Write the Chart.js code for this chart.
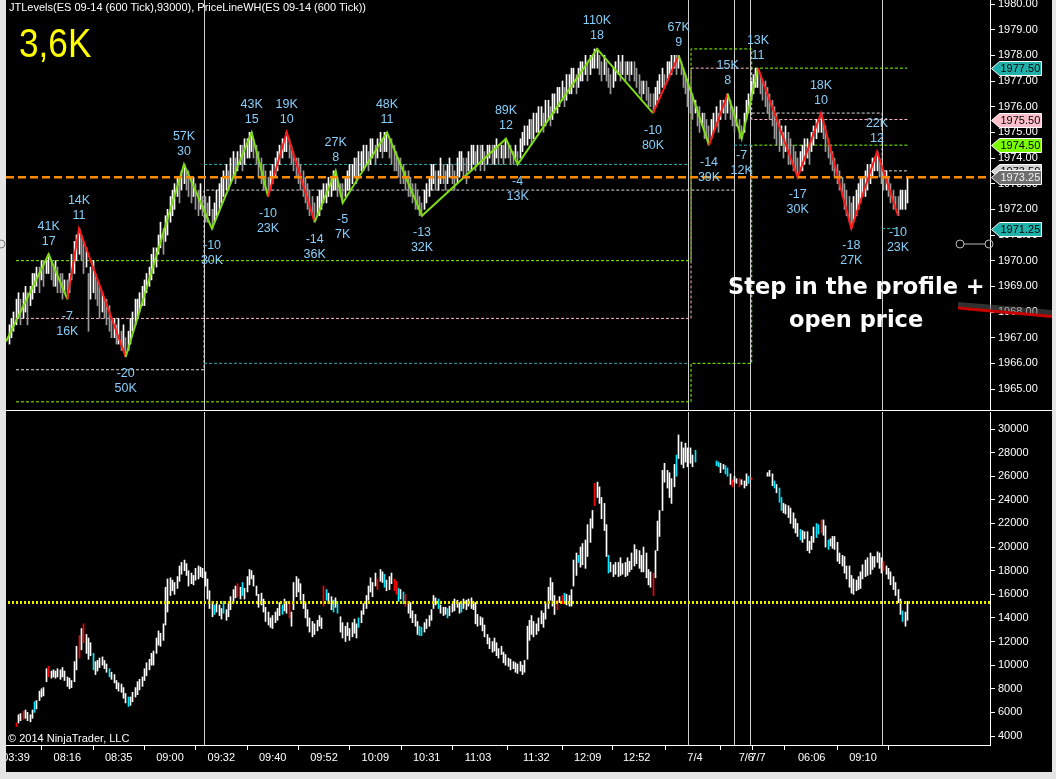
<!DOCTYPE html>
<html>
<head>
<meta charset="utf-8">
<title>ES 09-14 JTLevels</title>
<script src="https://cdn.jsdelivr.net/npm/chart.js@4.4.1/dist/chart.umd.min.js"></script>
<style>
html,body{margin:0;padding:0;}
body{width:1056px;height:779px;background:#e4e4e4;position:relative;overflow:hidden;}
#frame{position:absolute;left:6px;top:0;width:1046px;height:772px;background:#000;overflow:hidden;}
canvas{position:absolute;left:0;display:block;}
#c1{top:0;}
#c2{top:410px;}
.t{position:absolute;white-space:nowrap;font-family:"Liberation Sans",Arial,sans-serif;color:#fff;}
#title{left:3px;top:0;font-size:11px;line-height:14px;}
#big{left:13px;top:23px;font-size:40px;line-height:40px;color:#ffff00;transform:scaleX(0.88);transform-origin:0 0;}
#copy{left:2px;top:732px;font-size:11px;line-height:13px;}
.note{font-family:"DejaVu Sans",Verdana,sans-serif;font-weight:bold;font-size:22.5px;line-height:26px;}
#note1{left:722px;top:273px;}
#note2{left:783px;top:306px;}
svg{position:absolute;left:0;top:0;}
</style>
</head>
<body>
<svg width="12" height="779" style="left:0;top:0"><circle cx="1" cy="244" r="4" fill="none" stroke="#777" stroke-width="1"/></svg>
<div id="frame">
  <canvas id="c1" width="1046" height="410"></canvas>
  <canvas id="c2" width="1046" height="362"></canvas>
  <div class="t" id="title">JTLevels(ES 09-14 (600 Tick),93000), PriceLineWH(ES 09-14 (600 Tick))</div>
  <div class="t" id="big">3,6K</div>
  <div class="t" id="copy">© 2014 NinjaTrader, LLC</div>
  <svg width="1046" height="772">
    <line x1="952" y1="305" x2="1046" y2="313" stroke="rgba(90,90,90,0.55)" stroke-width="6"/>
    <line x1="952" y1="308" x2="1046" y2="316.5" stroke="#c80000" stroke-width="3"/>
    <line x1="958" y1="244" x2="979" y2="244" stroke="#bbbbbb" stroke-width="1"/>
    <circle cx="954" cy="244" r="4" fill="none" stroke="#bbbbbb" stroke-width="1"/>
    <circle cx="983" cy="244" r="4" fill="none" stroke="#bbbbbb" stroke-width="1"/>
  </svg>
  <div class="t note" id="note1">Step in the profile +</div>
  <div class="t note" id="note2">open price</div>
</div>
<script>
// ---------------- DATA ----------------
const priceTicks = [1965,1966,1967,1968,1969,1970,1971,1972,1973,1974,1975,1976,1977,1978,1979,1980];
const deltaTicks = [4000,6000,8000,10000,12000,14000,16000,18000,20000,22000,24000,26000,28000,30000];
const xTickIdx  = [3,25,47,69,91,113,135,157,179,201,226,248,269,294,316,321,344,366];
const xTickText = ['03:39','08:16','08:35','09:00','09:32','09:40','09:52','10:09','10:31','11:03','11:32','12:09','12:52','7/4','7/6','7/7','06:06','09:10'];
const sessionBreaks = [83.6,291,310.7,317.6,374.2];

// price bars [low, high], one per 600-tick bar
const priceHL = [
[1966.75,1967.5],[1967,1967.75],[1967.25,1968],[1967.5,1968.5],[1967.75,1968.75],[1967.5,1968.5],[1967.75,1968.75],[1968,1969],[1967.5,1968.75],[1968.25,1969],
[1968.5,1969.5],[1968.75,1969.5],[1969,1969.75],[1968.75,1969.75],[1969.25,1970],[1969,1970],[1969.5,1970],[1969.5,1970.25],[1969.25,1970],[1969,1969.75],
[1969,1970],[1968.75,1969.75],[1968.75,1969.5],[1968.5,1969.5],[1968.75,1969.25],[1968.5,1969.25],[1968.75,1969.5],[1969.25,1970.25],[1969.5,1970.75],[1970,1971],
[1970.25,1971.25],[1970,1971],[1969.5,1970.75],[1969.75,1970.5],[1967.25,1969.5],[1968.5,1969.75],[1968.75,1970],[1968.5,1969.5],[1968.25,1969.25],[1967.75,1969],
[1968,1968.75],[1967.75,1968.5],[1967.5,1968.5],[1967.25,1968.25],[1967,1967.75],[1967,1967.75],[1966.75,1967.5],[1966.75,1967.75],[1966.5,1967.25],[1966.5,1967.5],
[1966.25,1967],[1966.5,1967.25],[1966.75,1967.75],[1967.25,1968],[1967.5,1968.5],[1967.75,1968.5],[1968,1968.75],[1968.25,1969],[1968.25,1969.25],[1968.75,1969.5],
[1969,1969.75],[1969.25,1970.25],[1969.5,1970.5],[1969.75,1970.5],[1970.25,1971],[1970.5,1971.5],[1970.25,1971.25],[1970.75,1971.75],[1971,1972],[1971.5,1972.5],
[1971.75,1972.75],[1972,1973],[1972.5,1973.25],[1972.25,1973.25],[1972.75,1973.5],[1973,1973.75],[1972.75,1973.5],[1972.5,1973.5],[1972.25,1973.25],[1972.5,1973.25],
[1972,1973],[1971.75,1972.75],[1972,1973],[1971.75,1972.5],[1971.5,1972.5],[1971.5,1972.25],[1971.75,1972.5],[1971.25,1972],[1971.5,1972.25],[1971.75,1972.75],
[1972,1973],[1972.25,1973.25],[1972.5,1973.5],[1972.75,1973.75],[1972.75,1973.5],[1973,1974],[1973.25,1974.25],[1973,1974],[1973.5,1974.25],[1973.75,1974.5],
[1973.5,1974.5],[1973.75,1974.75],[1974,1974.75],[1974,1975],[1974.25,1975],[1974,1974.75],[1973.75,1974.5],[1973.25,1974.25],[1973,1974],[1972.75,1973.75],
[1972.75,1973.5],[1972.5,1973.25],[1972.75,1973.5],[1973,1973.75],[1973.25,1974],[1973.5,1974.25],[1973.75,1974.5],[1974,1974.75],[1974.25,1974.75],[1974.25,1975],
[1974,1974.75],[1973.75,1974.5],[1973.5,1974.25],[1973.25,1974],[1973,1974],[1972.75,1973.75],[1972.5,1973.5],[1972.25,1973.25],[1972,1973],[1971.75,1972.75],
[1971.75,1972.5],[1971.5,1972.25],[1971.75,1972.5],[1971.75,1972.75],[1972,1972.75],[1972.25,1973],[1972.25,1973],[1972.5,1973.25],[1972.5,1973.25],[1972.75,1973.5],
[1972.75,1973.5],[1972.5,1973.25],[1972.5,1973],[1972.25,1973],[1972.5,1973.25],[1972.75,1973.5],[1972.75,1973.75],[1973,1973.75],[1973.25,1974],[1973,1974],
[1973.25,1974.25],[1973.5,1974.25],[1973.5,1974.5],[1973.75,1974.5],[1973.5,1974.25],[1973.75,1974.75],[1974,1974.75],[1973.75,1974.5],[1974,1974.75],[1974.25,1975],
[1974,1974.75],[1974.25,1975],[1974.25,1975],[1974,1974.75],[1973.75,1974.75],[1973.5,1974.5],[1973.5,1974.25],[1973.25,1974],[1973,1974],[1973,1973.75],
[1972.75,1973.5],[1972.5,1973.5],[1972.5,1973.25],[1972.25,1973],[1972,1973],[1972,1972.75],[1971.75,1972.5],[1971.75,1972.25],[1972,1972.75],[1972.25,1973],
[1972.5,1973.25],[1972.75,1973.75],[1973,1973.75],[1972.75,1973.5],[1972.75,1973.5],[1973,1974],[1973,1973.75],[1972.75,1973.5],[1973,1973.75],[1973.25,1974],
[1973,1973.75],[1972.75,1973.5],[1973,1974],[1973.25,1974.25],[1973.5,1974.25],[1973.25,1974],[1973,1974],[1973.5,1974.25],[1973.5,1974.5],[1973.75,1974.5],
[1973.5,1974.25],[1973.75,1974.5],[1973.5,1974.5],[1973.75,1974.5],[1973.5,1974.25],[1973.75,1974.5],[1974,1974.5],[1973.75,1974.5],[1973.75,1974.5],[1974,1974.75],
[1973.75,1974.5],[1974,1974.5],[1973.75,1974.5],[1974,1974.75],[1974,1974.5],[1973.75,1974.5],[1973.75,1974.25],[1974,1974.5],[1973.75,1974.25],[1974,1974.75],
[1974.25,1975],[1974.5,1975.25],[1974.5,1975.25],[1974.75,1975.5],[1974.5,1975.5],[1974.75,1975.75],[1975,1975.75],[1975,1976],[1975.25,1976],[1975,1975.75],
[1975.25,1976.25],[1975.5,1976.25],[1975.25,1976],[1975.5,1976.5],[1975.75,1976.5],[1975.75,1976.75],[1976,1976.75],[1976.25,1977],[1976,1976.75],[1976.25,1977.25],
[1976.5,1977.25],[1976.5,1977.5],[1976.75,1977.5],[1976.5,1977.25],[1976.75,1977.5],[1977,1977.75],[1977,1977.75],[1977.25,1978],[1977,1977.75],[1977.25,1978],
[1977.5,1978],[1977.5,1978.25],[1977.5,1978.25],[1977.25,1978],[1977,1977.75],[1977.25,1978],[1977,1977.75],[1976.75,1977.5],[1976.5,1977.25],[1976.75,1977.5],
[1977,1977.75],[1977.25,1978],[1977,1977.75],[1977.25,1978],[1977,1977.75],[1977.25,1977.75],[1977,1977.75],[1977.25,1977.75],[1977,1977.75],[1976.75,1977.5],
[1976.5,1977.25],[1976.25,1977],[1976.5,1977],[1976.25,1977],[1976,1976.75],[1976,1976.5],[1975.75,1976.5],[1976,1976.75],[1976.25,1977],[1976.5,1977.25],
[1976.75,1977.5],[1976.75,1977.25],[1977,1977.75],[1977.25,1977.75],[1977.25,1978],[1977.5,1978],[1977.25,1978],[1977.5,1978],[1977.25,1977.75],[1976.75,1977.5],
[1976.5,1977.25],[1976,1977],[1975.75,1976.75],[1975.5,1976.5],[1975.75,1976.25],[1975.25,1976],[1975,1976],[1975.25,1975.75],[1974.75,1975.75],[1974.75,1975.5],
[1974.5,1975.25],[1974.75,1975.5],[1975,1975.75],[1975.25,1976],[1975,1975.75],[1975.5,1976.25],[1975.75,1976.25],[1975.5,1976.25],[1975.75,1976.5],[1975.5,1976.25],
[1975.25,1976],[1975,1975.75],[1975.25,1976],[1974.75,1975.5],[1974.75,1975.25],[1975,1975.75],[1975.5,1976.25],[1975.75,1976.5],[1976.25,1977],[1976.5,1977.25],
[1976.75,1977.5],[1976.75,1977.5],[1976.5,1977.25],[1976.25,1977],[1976,1977],[1975.75,1976.75],[1975.5,1976.5],[1975.25,1976.25],[1974.75,1976],[1974.5,1975.75],
[1974.25,1975.5],[1974.5,1975.25],[1974,1975],[1974.25,1975.25],[1973.75,1975],[1973.75,1974.75],[1973.5,1974.5],[1973.5,1974.25],[1973.25,1974],[1973.5,1974.25],
[1973.5,1974.5],[1973.75,1974.75],[1974,1974.75],[1973.75,1974.5],[1974.25,1975],[1974.5,1975.25],[1974.75,1975.5],[1975,1975.5],[1975,1975.75],[1974.75,1975.5],
[1974.25,1975.25],[1974,1974.75],[1973.75,1974.5],[1973.5,1974.25],[1973.25,1974],[1973,1973.75],[1972.75,1973.5],[1972.5,1973.25],[1972,1973],[1971.75,1972.75],
[1971.5,1972.5],[1971.25,1972.25],[1971.5,1972.5],[1971.75,1972.75],[1972,1973],[1972.25,1973.25],[1972.5,1973.25],[1972.5,1973.5],[1972.75,1973.75],[1973,1973.75],
[1973.25,1974],[1973.5,1974],[1973.5,1974.25],[1973.25,1974],[1973,1973.75],[1972.75,1973.5],[1972.75,1973.5],[1972.5,1973.25],[1972.25,1973],[1972,1972.75],
[1972,1972.5],[1971.75,1972.5],[1972,1972.75],[1972,1972.75],[1972,1972.75],[1972.25,1973.25]
];

// zigzag swings (first point = where the line enters the chart)
const swingIdx    = [-1.29,17,25,30,50,75,87,104,111,119,131,140,143,162,177,213,218,252,276,287,300,308,314,321,338,348,361,372,381];
const swingPrice  = [1966.85,1970.25,1968.5,1971.25,1966.25,1973.75,1971.25,1975,1972.5,1975,1971.5,1973.5,1972.25,1975,1971.75,1974.75,1973.75,1978.25,1975.75,1978,1974.5,1976.5,1974.75,1977.5,1973.25,1975.75,1971.25,1974.25,1971.75];
const swingTicks  = [null,17,-7,11,-20,30,-10,15,-10,10,-14,8,-5,11,-13,12,-4,18,-10,9,-14,8,-7,11,-17,10,-18,12,-10];
const swingVolume = [null,'41K','16K','14K','50K','57K','30K','43K','23K','19K','36K','27K','7K','48K','32K','89K','13K','110K','80K','67K','39K','15K','12K','13K','30K','18K','27K','22K','23K'];
const swingTrend  = ['up','up','down','down','up','up','up','up','down','down','up','up','up','up','up','up','up','up','down','up','down','up','up','down','down','down','down','down'];

// JTLevels horizontal levels: [bar index, price]
const levelGreenA = [[3,1970.0],[292.3,1978.25],[318.3,1977.5],[385,1977.5]];
const levelGreenB = [[3,1964.5],[292.3,1966.0],[318.3,1974.5],[385,1974.5]];
const levelPink   = [[3,1967.75],[292.3,1977.5],[318.3,1975.5],[385,1975.5]];
const levelWhiteA = [[3,1965.75],[83.6,1972.75],[310.7,1972.75]];
const levelWhiteB = [[318.3,1975.75],[374.2,1973.5],[385,1973.5]];
const levelTealA  = [[83.6,1966.0],[291,1966.0]];
const levelTealB  = [[83.6,1973.75],[291,1973.75]];
const levelTealC  = [[310.7,1974.5],[318.3,1974.5]];
const levelTealD  = [[374.2,1971.25],[380,1971.25]];

const priceLine = 1973.25;
const priceTags = [1977.5,1975.5,1974.5,1973.5,1973.25,1971.25];

// lower panel bars [low, high]
const deltaHL = [
null,null,null,[4800,5100],[5100,5800],[5300,5900],[5400,6100],[5500,6200],[5300,6000],[5200,5800],
[5500,6200],[6000,6900],[6300,7000],[7000,7800],[7300,8000],[7400,8100],[8600,9700],[9000,9900],[8900,9500],[9000,9600],
[8900,9500],[9000,9700],[8800,9600],[9000,9800],[8700,9500],[8200,9000],[8000,8900],[8100,8700],[8600,10300],[9600,11600],
[10600,12500],[11300,13100],[11900,13500],[11000,12600],[10500,12300],[10800,11900],[9600,11000],[9200,10300],[9500,10400],[9800,10600],
[10000,10700],[9700,10400],[9400,10100],[9000,9700],[8800,9400],[8500,9200],[8000,8700],[7800,8500],[7700,8400],[7200,8100],
[6800,7600],[6500,7300],[6600,7300],[6900,7700],[7300,8100],[7500,8600],[7900,8800],[8200,9000],[8700,9700],[9100,10200],
[9600,10500],[10000,11000],[10000,11200],[11000,12300],[11700,12900],[11600,12700],[12100,13500],[13400,16600],[14500,17300],[15900,17400],
[16300,17200],[16000,17000],[16500,17500],[17100,18400],[17700,18700],[18000,18900],[17600,18600],[16700,18000],[16900,17800],[16800,17600],
[17200,18200],[17300,18400],[17500,18300],[17400,18200],[16700,17900],[15600,17300],[14800,16300],[14100,15400],[14300,15100],[14500,15200],
[14200,15100],[13900,14800],[14400,15400],[13800,14700],[14100,15200],[14700,15800],[15300,16400],[15700,16700],[15800,16900],[15600,16600],
[15900,17000],[15600,16500],[16200,17500],[16800,18100],[17300,18000],[16700,17600],[15900,16700],[14900,16000],[15100,16100],[14500,15600],
[13700,14900],[13400,14500],[13200,14000],[13100,14200],[13600,14500],[13800,14800],[14200,15300],[14300,15100],[14600,15600],[14400,15400],
[14000,15300],[13300,14500],[14700,17000],[15800,17500],[16200,17300],[15500,16900],[14800,16000],[14000,15300],[13300,14700],[12800,14000],
[12400,13700],[12600,13500],[12900,13800],[13300,14200],[13100,14000],[15000,16700],[15500,16400],[15200,16100],[14700,15800],[14500,15500],
[14900,15700],[14400,15400],[12800,14100],[12300,13600],[12000,13300],[12500,13600],[12100,13100],[12400,13600],[12700,13900],[12300,13500],
[13200,14000],[13600,14600],[14300,15200],[14800,15900],[15500,16700],[16200,17400],[15800,17000],[16700,17800],[16400,17300],[17100,18100],
[17000,17900],[16600,17700],[16300,17200],[16400,17500],[16900,17800],[16300,17300],[16000,17100],[15400,16500],[15600,16400],[15200,16200],
[15000,16000],[14400,15400],[14000,15300],[13600,14600],[13300,14300],[12600,13700],[12500,13300],[12500,13200],[12800,13600],[13100,13900],
[13300,14200],[13800,14700],[14800,15900],[15100,15700],[14800,15600],[14400,15100],[14200,14900],[14300,14900],[14000,14800],[14200,15000],
[14500,15200],[14600,15600],[14900,15500],[14400,15300],[14500,15200],[14800,15600],[14700,15500],[15000,15600],[14800,15700],[14700,15400],
[13500,15300],[13300,14300],[13400,14100],[12900,14000],[12400,13400],[11800,12600],[11400,12300],[11100,12000],[11200,12300],[10800,11900],
[10600,11400],[10900,11600],[10200,11100],[10000,10900],[9900,10600],[9600,10500],[9700,10300],[9400,10200],[9300,10100],[9500,10300],
[9200,10000],[9400,10400],[10500,13300],[12100,13800],[12600,14200],[12400,13700],[12600,13500],[12900,14000],[13500,14600],[13200,14400],
[13900,15300],[14800,16600],[15500,17400],[15000,17000],[14300,15900],[14700,15500],[15300,15800],[15200,15900],[15200,16100],[15100,16000],
[15000,15900],[15000,16400],[16700,18900],[17600,19500],[18700,19300],[18300,20000],[18500,20300],[18200,20600],[19200,21900],[20400,22400],
[21600,23100],[23500,25400],[24200,25500],[23700,25100],[22400,24200],[21400,23700],[19200,21900],[17800,19300],[17900,18700],[17500,18500],
[17700,18700],[17500,18700],[17600,19100],[17700,18600],[17500,18700],[17600,19100],[17900,18800],[18100,19500],[18400,20200],[18600,19800],
[18200,19700],[17900,19300],[17900,20000],[17400,19500],[16800,18100],[16600,17900],[15900,17800],[17400,19700],[19700,22200],[20900,23100],
[23100,26500],[25500,27100],[25000,26500],[24200,26300],[23700,25800],[25100,27000],[26000,27800],[27500,29500],[27000,28900],[26700,28400],
[27200,28800],[26800,28400],[27100,28400],[26800,27800],[27200,28200],null,null,null,null,null,
null,null,null,[26900,27300],[26800,27200],[26300,27100],[26600,27000],[26200,26900],[26000,26700],[25300,26200],
[25100,25700],[25500,26000],[25400,25800],[25100,25800],[25300,25700],[25000,25600],[25200,26200],[25400,26000],[25700,25900],null,
null,null,null,null,null,[26000,26300],[26000,26500],[25200,26200],[25000,25600],[24600,25300],
[23800,25000],[23100,24200],[22900,23700],[22800,23600],[22500,23500],[22000,23300],[21600,22900],[21200,22400],[20900,22000],[20600,21500],
[20400,21400],[20700,21300],[19700,21300],[19500,20500],[19800,20900],[20400,21700],[20800,22000],[21100,21900],[21200,22300],[21000,22300],
[20000,21800],[19800,20600],[20100,20700],[19900,20900],[19800,20900],[18800,20400],[18600,19500],[18400,19300],[17800,19200],[17300,18400],
[16600,18400],[16100,17600],[16000,17300],[16300,17200],[16400,17500],[16500,17900],[17300,18500],[17500,18900],[17600,19100],[17700,19500],
[18100,19200],[18300,19200],[18700,19600],[18200,19500],[17800,19100],[18000,18800],[17700,18400],[17300,18200],[16800,17900],[16400,17500],
[15900,17000],[15300,16400],[14300,15600],[13700,14600],[13300,14500],[13800,15400]
];
const deltaCyan = [11,36,43,51,88,92,100,117,136,139,141,150,161,167,169,176,177,184,188,194,238,244,257,286,294,303,304,307,308,317,328,330,331,339,346,347,351,383];
const deltaRed  = [3,6,17,30,32,98,120,135,158,165,166,170,235,237,251,276,310,313,318,348,375];
const deltaRef  = 15350;

// ---------------- STYLE / LAYOUT ----------------
const FONT = '"Liberation Sans", Arial, sans-serif';
const X_MIN = -9/7, X_MAX = 981*3/7;
const GREEN = '#7ddc12', RED = '#ff1a1a';
const WHITE = '#ffffff', GRAY = '#9a9a9a';
const LBL = '#87cefa';
Chart.defaults.font.family = FONT;

const snapBars = {
  id:'snapBars',
  afterDatasetsUpdate(chart){
    chart.data.datasets.forEach((ds,di)=>{
      const meta = chart.getDatasetMeta(di);
      if (meta.type !== 'bar') return;
      meta.data.forEach(el=>{ el.x = Math.floor(el.x) + 0.5; el.width = 1; });
    });
  }
};
const sessions = {
  id:'sessions',
  beforeDatasetsDraw(chart){
    const {ctx, chartArea:a, scales:{x}} = chart;
    ctx.save(); ctx.strokeStyle = '#cfcfcf'; ctx.lineWidth = 1;
    sessionBreaks.forEach(v=>{
      const px = Math.round(x.getPixelForValue(v)) + 0.5;
      ctx.beginPath(); ctx.moveTo(px, a.top); ctx.lineTo(px, a.bottom); ctx.stroke();
    });
    ctx.restore();
  }
};
const priceDeco = {
  id:'priceDeco',
  afterDatasetsDraw(chart){
    const {ctx, chartArea:a, scales:{x,y}} = chart;
    ctx.save();
    const py = y.getPixelForValue(priceLine);
    ctx.strokeStyle = '#ff8c00'; ctx.lineWidth = 2.5; ctx.setLineDash([8,4]);
    ctx.beginPath(); ctx.moveTo(a.left, py); ctx.lineTo(a.right, py); ctx.stroke();
    ctx.setLineDash([]);
    ctx.font = '12.5px ' + FONT; ctx.fillStyle = LBL; ctx.textAlign = 'center'; ctx.textBaseline = 'middle';
    swingIdx.forEach((v,k)=>{
      if (swingTicks[k] === null) return;
      const px = x.getPixelForValue(v), pv = y.getPixelForValue(swingPrice[k]);
      if (swingTicks[k] > 0) {
        ctx.fillText(swingVolume[k], px, pv - 28);
        ctx.fillText(String(swingTicks[k]), px, pv - 13);
      } else {
        ctx.fillText(String(swingTicks[k]), px, pv + 17);
        ctx.fillText(swingVolume[k], px, pv + 32);
      }
    });
    ctx.restore();
  },
  afterDraw(chart){
    const {ctx, chartArea:a, scales:{y}} = chart;
    const fills = ['#20b2aa','#ffc0cb','#7cfc00','#d3d3d3','#6e6e6e','#20b2aa'];
    const texts = ['#000','#000','#000','#000','#f0f0f0','#000'];
    ctx.save();
    priceTags.forEach((v,k)=>{
      const py = Math.round(y.getPixelForValue(v)) + 0.5, x0 = a.right + 1.5;
      ctx.beginPath();
      ctx.moveTo(x0, py); ctx.lineTo(x0 + 8, py - 7); ctx.lineTo(x0 + 50, py - 7);
      ctx.lineTo(x0 + 50, py + 7); ctx.lineTo(x0 + 8, py + 7); ctx.closePath();
      ctx.fillStyle = fills[k]; ctx.fill();
      ctx.strokeStyle = '#ffffff'; ctx.lineWidth = 1; ctx.stroke();
      ctx.fillStyle = texts[k]; ctx.font = '11px ' + FONT; ctx.textAlign = 'left'; ctx.textBaseline = 'middle';
      ctx.fillText(v.toFixed(2), x0 + 9, py + 0.5);
    });
    ctx.restore();
  }
};
const deltaDeco = {
  id:'deltaDeco',
  beforeDraw(chart){
    const {ctx} = chart;
    ctx.save(); ctx.fillStyle = '#ffffff'; ctx.fillRect(0, 0, chart.width, 1); ctx.restore();
  },
  afterDatasetsDraw(chart){
    const {ctx, chartArea:a, scales:{y}} = chart;
    const py = Math.round(y.getPixelForValue(deltaRef)) + 0.5;
    ctx.save(); ctx.strokeStyle = '#e8e800'; ctx.lineWidth = 3; ctx.setLineDash([2,2]);
    ctx.beginPath(); ctx.moveTo(a.left + 2, py); ctx.lineTo(a.right, py); ctx.stroke();
    ctx.restore();
  }
};

function yAxis(min, max, ticks, fmt){
  return {
    type:'linear', position:'right', min, max, bounds:'data',
    afterBuildTicks(s){ s.ticks = ticks.map(v=>({value:v})); },
    afterFit(s){ s.width = 62; s.paddingTop = 0; s.paddingBottom = 0; },
    ticks:{ color:'#ffffff', font:{size:11, family:FONT}, padding:3, callback:fmt },
    grid:{ drawOnChartArea:false, drawTicks:true, tickLength:5, color:'#ffffff' },
    border:{ display:true, color:'#ffffff', width:1 }
  };
}

// ---------------- PRICE PANEL ----------------
const priceBars = priceHL.map((v,i)=>({x:i, y:v}));
const priceColors = priceHL.map((v,i)=>{
  if (i === 0) return WHITE;
  const m = v[0] + v[1], p = priceHL[i-1][0] + priceHL[i-1][1];
  return m >= p ? WHITE : GRAY;
});
const lvl = (arr, color) => ({
  type:'line', data: arr.map(p=>({x:p[0], y:p[1]})), stepped:'before',
  borderColor:color, borderWidth:1, borderDash:[3,2], pointRadius:0, fill:false, order:3
});

new Chart(document.getElementById('c1'), {
  type:'bar',
  data:{ datasets:[
    lvl(levelTealA,'#3aa8a8'), lvl(levelTealB,'#2cb5b5'), lvl(levelTealC,'#2cb5b5'), lvl(levelTealD,'#2cb5b5'),
    lvl(levelWhiteA,'#dcdcdc'), lvl(levelWhiteB,'#dcdcdc'),
    lvl(levelPink,'#ffb6c1'), lvl(levelGreenB,'#7fff00'), lvl(levelGreenA,'#7fff00'),
    { type:'bar', data:priceBars, backgroundColor:priceColors, barThickness:1, borderWidth:0, order:2 },
    { type:'line', data:swingIdx.map((v,k)=>({x:v, y:swingPrice[k]})), borderWidth:2, pointRadius:0,
      borderColor:GREEN, segment:{ borderColor: c => swingTrend[c.p0DataIndex] === 'up' ? GREEN : RED }, order:1 }
  ]},
  options:{
    responsive:false, animation:false, events:[],
    layout:{ padding:0 },
    plugins:{ legend:{display:false}, tooltip:{enabled:false} },
    scales:{
      x:{ type:'linear', display:false, min:X_MIN, max:X_MAX, offset:false, bounds:'data' },
      y: yAxis(1964.182, 1980.156, priceTicks, v => v.toFixed(2))
    }
  },
  plugins:[snapBars, sessions, priceDeco]
});

// ---------------- LOWER PANEL ----------------
const deltaBars = [], deltaColors = [];
deltaHL.forEach((v,i)=>{
  if (!v) return;
  deltaBars.push({x:i, y:v});
  deltaColors.push(deltaCyan.includes(i) ? '#00e8ff' : deltaRed.includes(i) ? '#ff0000' : '#ffffff');
});

new Chart(document.getElementById('c2'), {
  type:'bar',
  data:{ datasets:[ { data:deltaBars, backgroundColor:deltaColors, barThickness:1, borderWidth:0 } ] },
  options:{
    responsive:false, animation:false, events:[],
    layout:{ padding:{ top:2, left:0, right:0, bottom:0 } },
    plugins:{ legend:{display:false}, tooltip:{enabled:false} },
    scales:{
      x:{ type:'linear', position:'bottom', min:X_MIN, max:X_MAX, offset:false, bounds:'data',
          afterBuildTicks(s){ s.ticks = xTickIdx.map(v=>({value:v})); },
          afterFit(s){ s.height = 27; s.paddingLeft = 0; s.paddingRight = 0; },
          ticks:{ autoSkip:false, maxRotation:0, minRotation:0, color:'#ffffff', padding:1,
                  font:{size:11, family:FONT}, callback:(v,i)=>xTickText[i] },
          grid:{ drawOnChartArea:false, drawTicks:true, tickLength:5, color:'#ffffff' },
          border:{ display:true, color:'#ffffff', width:1 } },
      y: yAxis(3238, 31440, deltaTicks, v => String(v))
    }
  },
  plugins:[snapBars, sessions, deltaDeco]
});
</script>
</body>
</html>
